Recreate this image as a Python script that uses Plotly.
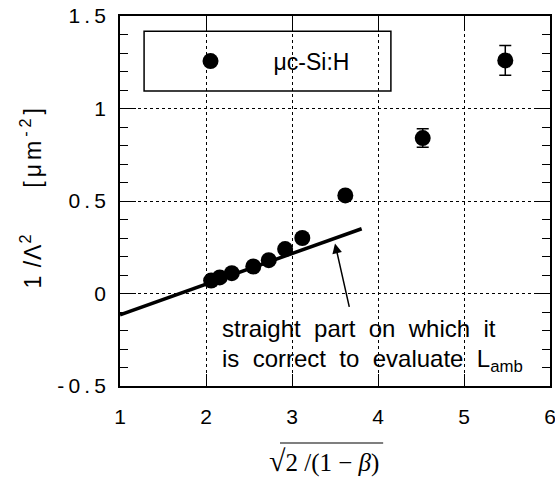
import plotly.graph_objects as go

# ---- data ----
x_vals = [2.06, 2.16, 2.30, 2.55, 2.73, 2.92, 3.12, 3.62, 4.52, 5.48]
y_vals = [0.07, 0.087, 0.11, 0.146, 0.18, 0.24, 0.30, 0.53, 0.84, 1.26]
y_err = [0, 0, 0, 0, 0, 0, 0, 0, 0.05, 0.08]
series_name = "μc-Si:H"

fit_x = [1.0, 3.81]
fit_y = [-0.115, 0.35]

arrow_head = (3.50, 0.27)
arrow_tail = (3.67, -0.08)

y_tickvals = [-0.5, 0, 0.5, 1, 1.5]
y_ticktext = ["-\u20090\u2009.\u20095", "0", "0\u2009.\u20095", "1", "1\u2009.\u20095"]
x_tickvals = [1, 2, 3, 4, 5, 6]

FONT = "Liberation Sans, Arial, Helvetica, sans-serif"
SERIF = "Liberation Serif, Times New Roman, serif"

fig = go.Figure()

fig.add_trace(go.Scatter(
    x=fit_x, y=fit_y, mode="lines",
    line=dict(color="black", width=3.5),
    showlegend=False, hoverinfo="skip",
))

fig.add_trace(go.Scatter(
    x=x_vals, y=y_vals, mode="markers", name=series_name,
    marker=dict(color="black", size=16, line=dict(width=0)),
    error_y=dict(type="data", array=y_err, visible=True,
                 color="black", thickness=1.5, width=6),
))

axis_common = dict(
    showline=True, linecolor="black", linewidth=1.5, mirror="ticks",
    ticks="inside", tickcolor="black", tickwidth=1.2,
    showgrid=True, gridcolor="black", griddash="dot", gridwidth=1,
    zeroline=False, automargin=False, ticklabeloverflow="allow",
    tickfont=dict(family=FONT, size=21, color="black"),
)

fig.update_xaxes(
    range=[1, 6], tickvals=x_tickvals, ticklen=12,
    ticklabelstandoff=11,
    **axis_common,
)
fig.update_yaxes(
    range=[-0.5, 1.5], tickvals=y_tickvals, ticktext=y_ticktext, ticklen=16,
    minor=dict(dtick=0.1, ticks="inside", ticklen=8, tickcolor="black",
               tickwidth=1.2, showgrid=False),
    ticklabelstandoff=8,
    **axis_common,
)

GAP = "\u00a0 "
annotations = [
    dict(text=GAP.join(["straight", "part", "on", "which", "it"]),
         x=2.163, y=-0.19, xref="x", yref="y", xanchor="left", yanchor="middle",
         showarrow=False, font=dict(family=FONT, size=24, color="black")),
    dict(text=GAP.join(["is", "correct", "to", "evaluate", "L<sub style='font-size:19px'>amb</sub>"]),
         x=2.163, y=-0.36, xref="x", yref="y", xanchor="left", yanchor="middle",
         showarrow=False, font=dict(family=FONT, size=24, color="black")),
    dict(text="", x=arrow_head[0], y=arrow_head[1], ax=arrow_tail[0], ay=arrow_tail[1],
         xref="x", yref="y", axref="x", ayref="y", showarrow=True,
         arrowhead=2, arrowsize=1.3, arrowwidth=1.5, arrowcolor="black", standoff=0),
    dict(text="<span style='letter-spacing:1px'>1 /Λ<sup>2</sup></span>\u2003\u2003"
              "<span style='letter-spacing:4px'>[μm<sup>-2</sup>]</span>",
         x=-0.207, y=0.512, xref="paper", yref="paper", textangle=-90,
         xanchor="center", yanchor="middle",
         showarrow=False, font=dict(family=FONT, size=23, color="black")),
    dict(text="<span style='font-size:30px'>√</span>2 /(1 − <i>β</i>)",
         x=0.475, y=-0.2, xref="paper", yref="paper", xanchor="center", yanchor="middle",
         showarrow=False, font=dict(family=SERIF, size=25, color="black")),
]

shapes = [
    dict(type="rect", xref="paper", yref="paper", x0=0.056, x1=0.630, y0=0.797, y1=0.959,
         line=dict(color="black", width=1.5), fillcolor="white", layer="below"),
    dict(type="line", xref="paper", yref="paper", x0=0.372, x1=0.612, y0=-0.154, y1=-0.154,
         line=dict(color="black", width=1.2)),
]

fig.update_layout(
    width=555, height=479,
    margin=dict(l=120, r=5, t=16, b=93),
    paper_bgcolor="white", plot_bgcolor="white",
    font=dict(family=FONT, color="black"),
    showlegend=True,
    legend=dict(x=0.064, y=0.878, xanchor="left", yanchor="middle",
                bgcolor="rgba(0,0,0,0)", borderwidth=0,
                font=dict(family=FONT, size=23, color="black"),
                itemwidth=116),
    annotations=annotations, shapes=shapes,
)

fig.write_html("out.html", config={"displayModeBar": False},
               post_script="document.body.style.margin='0';")
